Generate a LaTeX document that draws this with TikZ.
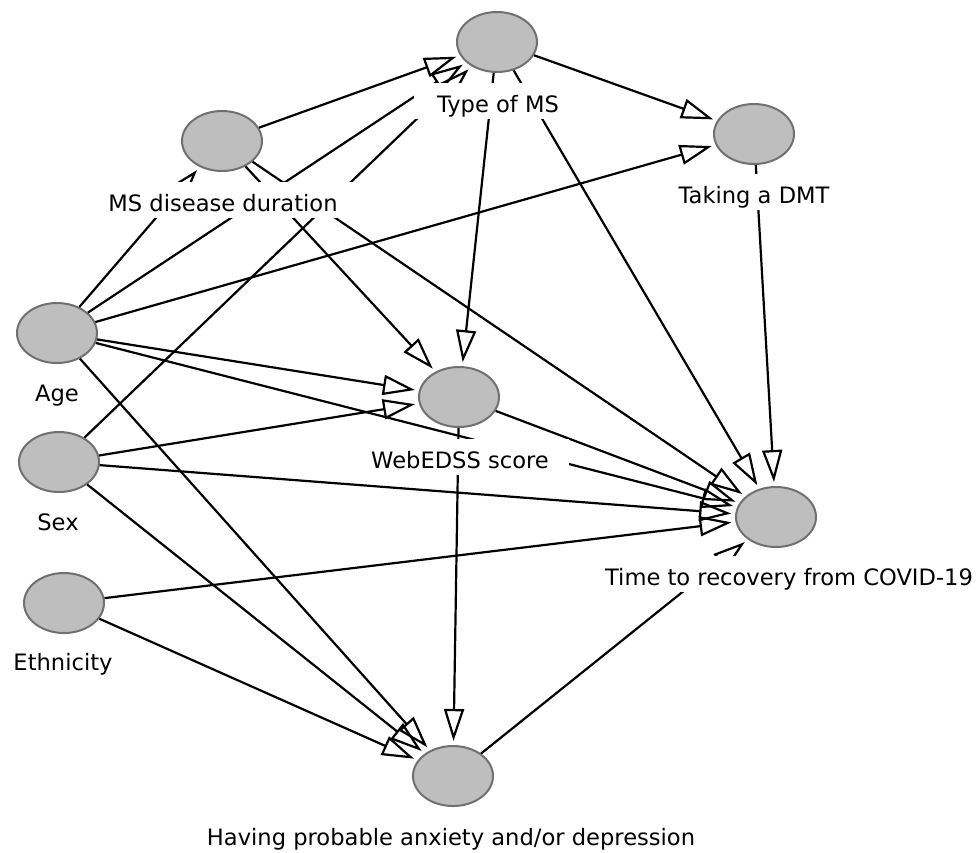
\documentclass[tikz,border=0pt]{standalone}
\usepackage{fontspec}
\setmainfont{DejaVu Sans}
\usetikzlibrary{shapes.geometric,arrows.meta}
\definecolor{nodefill}{RGB}{190,190,190}
\definecolor{nodeline}{RGB}{112,112,112}
\begin{document}
\begin{tikzpicture}[x=0.5pt,y=-0.5pt,
  var/.style={ellipse,minimum width=40pt,minimum height=30pt,inner sep=0pt,
    fill=nodefill,draw=nodeline,line width=1pt},
  lab/.style={anchor=base,fill=white,inner xsep=2pt,inner ysep=2pt,
    minimum width=#1*8.4pt,
    text height=12.5pt,text depth=1.5pt,font=\fontsize{11.3pt}{13pt}\selectfont},
  edge/.style={draw=black,line width=1.1pt,shorten >=2pt,
    -{Triangle[open,length=16pt,width=10pt,line width=1.1pt]}}]
\useasboundingbox (0,0) rectangle (977,852);
% variables
\node[var] (type) at (497,42) {};
\node[var] (dur)  at (222,141) {};
\node[var] (dmt)  at (754,134) {};
\node[var] (age)  at (57,333) {};
\node[var] (web)  at (459,397) {};
\node[var] (sex)  at (59,462) {};
\node[var] (time) at (776,517) {};
\node[var] (eth)  at (64,603) {};
\node[var] (anx)  at (453,776) {};
% edges
\draw[edge] (dur) -- (type);
\draw[edge] (age) -- (dur);
\draw[edge] (age) -- (type);
\draw[edge] (sex) -- (type);
\draw[edge] (age) -- (dmt);
\draw[edge] (type) -- (dmt);
\draw[edge] (type) -- (web);
\draw[edge] (type) -- (time);
\draw[edge] (dmt) -- (time);
\draw[edge] (dur) -- (web);
\draw[edge] (dur) -- (time);
\draw[edge] (age) -- (web);
\draw[edge] (age) -- (time);
\draw[edge] (age) -- (anx);
\draw[edge] (sex) -- (web);
\draw[edge] (sex) -- (time);
\draw[edge] (sex) -- (anx);
\draw[edge] (eth) -- (time);
\draw[edge] (eth) -- (anx);
\draw[edge] (web) -- (time);
\draw[edge] (web) -- (anx);
\draw[edge] (anx) -- (time);
% labels
\node[lab=10] (typel) at (498,112) {Type of MS};
\node[lab=19] (durl)  at (223,211) {MS disease duration};
\node[lab=12] (dmtl)  at (754,203) {Taking a DMT};
\node[lab=3]  (agel)  at (57,401) {Age};
\node[lab=13] (webl)  at (460,468) {WebEDSS score};
\node[lab=3]  (sexl)  at (58,530) {Sex};
\node[lab=30] (timel) at (789,585) {Time to recovery from COVID-19};
\node[lab=9]  (ethl)  at (63,670) {Ethnicity};
\node[lab=41] (anxl)  at (451,845) {Having probable anxiety and/or depression};
\end{tikzpicture}
\end{document}
